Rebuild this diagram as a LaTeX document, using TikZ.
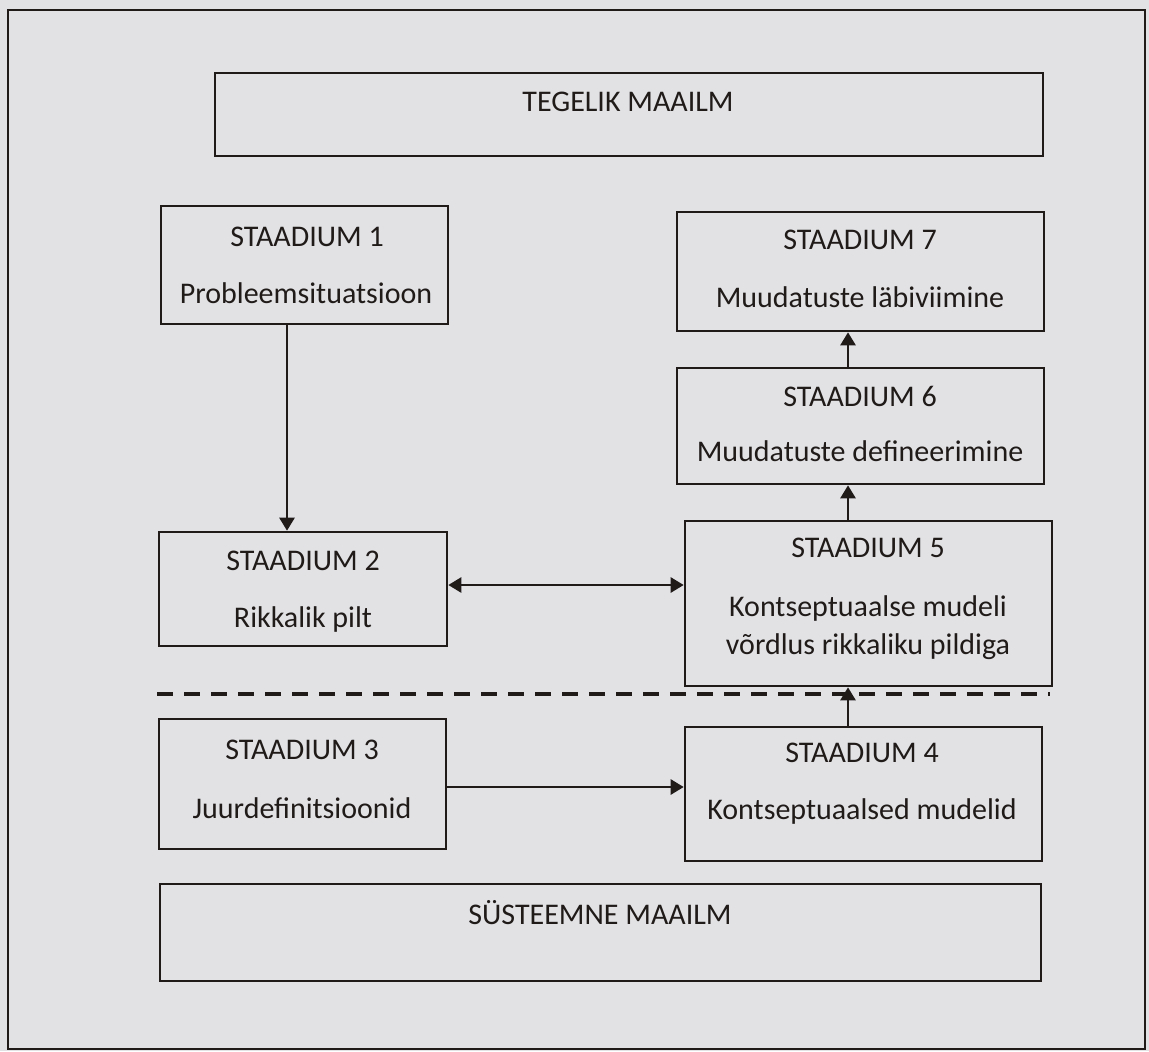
\documentclass[tikz,border=0pt]{standalone}
\usepackage{fontspec}
\setmainfont{Carlito}
\usetikzlibrary{arrows.meta,fit}
\definecolor{paper}{RGB}{226,226,229}
\definecolor{ink}{RGB}{32,27,25}
\begin{document}
\begin{tikzpicture}[x=0.5pt,y=-0.5pt,
  box/.style={draw=ink, line width=1.3pt, inner sep=0pt},
  lbl/.style={text=ink, font=\fontsize{15}{18}\selectfont, inner sep=0pt},
  tip/.style={},
  arr/.style={draw=ink, line width=1.3pt, -{Triangle[length=6.5pt,width=7.5pt]}},
  dbl/.style={draw=ink, line width=1.3pt, {Triangle[length=6.5pt,width=7.5pt]}-{Triangle[length=6.5pt,width=7.5pt]}},
  divider/.style={draw=ink, line width=2pt, dash pattern=on 8pt off 5.5pt}]
% page and outer frame
\useasboundingbox[fill=paper] (0,0) rectangle (1149,1051);
\node[box, fit={(8,10) (1145,1049)}] (frame) {};

% real world and systems world bands
\node[box, fit={(215,73) (1043,156)}] (real) {};
\node[lbl] (realt) at (628,102) {TEGELIK MAAILM};
\node[box, fit={(160,884) (1041,981)}] (sys) {};
\node[lbl] (syst) at (600,913) {SÜSTEEMNE MAAILM};

% stages
\node[box, fit={(161,206) (448,324)}] (s1) {};
\node[lbl] (s1a) at (307,237) {STAADIUM 1};
\node[lbl] (s1b) at (306,293) {Probleemsituatsioon};

\node[box, fit={(159,532) (447,646)}] (s2) {};
\node[lbl] (s2a) at (303,561) {STAADIUM 2};
\node[lbl] (s2b) at (303,619) {Rikkalik pilt};

\node[box, fit={(159,719) (446,849)}] (s3) {};
\node[lbl] (s3a) at (302,750) {STAADIUM 3};
\node[lbl] (s3b) at (302,808) {Juurdefinitsioonid};

\node[box, fit={(685,727) (1042,861)}] (s4) {};
\node[lbl] (s4a) at (862,753) {STAADIUM 4};
\node[lbl] (s4b) at (862,811) {Kontseptuaalsed mudelid};

\node[box, fit={(685,521) (1052,686)}] (s5) {};
\node[lbl] (s5a) at (868,548) {STAADIUM 5};
\node[lbl] (s5b) at (868,608) {Kontseptuaalse mudeli};
\node[lbl] (s5c) at (868,647) {võrdlus rikkaliku pildiga};

\node[box, fit={(677,368) (1044,484)}] (s6) {};
\node[lbl] (s6a) at (860,396) {STAADIUM 6};
\node[lbl] (s6b) at (860,451) {Muudatuste defineerimine};

\node[box, fit={(677,212) (1044,331)}] (s7) {};
\node[lbl] (s7a) at (860,240) {STAADIUM 7};
\node[lbl] (s7b) at (860,297) {Muudatuste läbiviimine};

% boundary between real world and systems thinking
\coordinate (dl) at (157,694);
\coordinate (dr) at (1050,694);
\draw[divider] (dl) -- (dr);

% connectors
\draw[arr] (s1.south -| 287,0) -- (s2.north -| 287,0);
\draw[dbl] (s2.east |- 0,585) -- (s5.west |- 0,585);
\draw[arr] (s3.east |- 0,787) -- (s4.west |- 0,787);
\draw[arr] (s4.north -| 848,0) -- (s5.south -| 848,0);
\draw[arr] (s5.north -| 848,0) -- (s6.south -| 848,0);
\draw[arr] (s6.north -| 848,0) -- (s7.south -| 848,0);
\end{tikzpicture}
\end{document}
